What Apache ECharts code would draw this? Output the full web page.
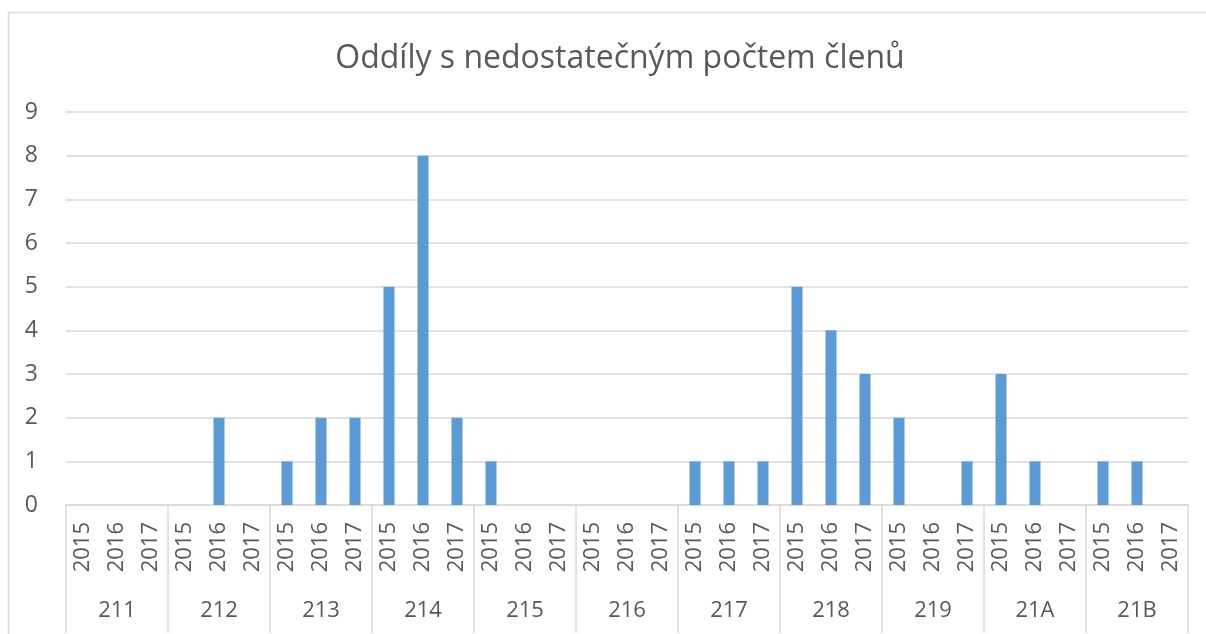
<!DOCTYPE html>
<html>
<head>
<meta charset="utf-8">
<script src="https://cdn.jsdelivr.net/npm/echarts@6/dist/echarts.min.js"></script>
<style>
  html, body { margin: 0; padding: 0; background: #fff; }
  #chart { width: 1206px; height: 634px; }
</style>
</head>
<body>
<div id="chart"></div>
<script>
var groups = ['211', '212', '213', '214', '215', '216', '217', '218', '219', '21A', '21B'];
var years = ['2015', '2016', '2017'];
// values per group, in order 2015, 2016, 2017
var v211 = [0, 0, 0];
var v212 = [0, 2, 0];
var v213 = [1, 2, 2];
var v214 = [5, 8, 2];
var v215 = [1, 0, 0];
var v216 = [0, 0, 0];
var v217 = [1, 1, 1];
var v218 = [5, 4, 3];
var v219 = [2, 0, 1];
var v21A = [3, 1, 0];
var v21B = [1, 1, 0];

var groupValues = [v211, v212, v213, v214, v215, v216, v217, v218, v219, v21A, v21B];
var yearCats = [];
var values = [];
groupValues.forEach(function (g) {
    g.forEach(function (v, i) {
        yearCats.push(years[i]);
        values.push(v);
    });
});

var textColor = '#595959';
var lineColor = '#d9d9d9';
var font = '"Open Sans", sans-serif';

var myChart = echarts.init(document.getElementById('chart'));
myChart.setOption({
    animation: false,
    title: {
        text: 'Oddíly s nedostatečným počtem členů',
        left: 615,
        top: 38,
        textAlign: 'center',
        textStyle: {
            color: textColor,
            fontSize: 32,
            fontWeight: 'normal',
            fontFamily: font
        }
    },
    graphic: [{
        type: 'rect',
        shape: { x: 8.5, y: 12.5, width: 1400, height: 800 },
        style: { fill: 'none', stroke: lineColor, lineWidth: 1.5 },
        silent: true,
        z: -1
    }],
    grid: {
        left: 66,
        right: 18,
        top: 112,
        bottom: 129
    },
    xAxis: [{
        type: 'category',
        data: yearCats,
        position: 'bottom',
        axisLine: { lineStyle: { color: lineColor, width: 1.5 } },
        axisTick: { show: false },
        axisLabel: {
            interval: 0,
            rotate: 90,
            margin: 17,
            color: textColor,
            fontSize: 22,
            fontFamily: font
        }
    }, {
        type: 'category',
        data: groups,
        position: 'bottom',
        axisLine: { show: false },
        axisTick: {
            show: true,
            inside: false,
            length: 128,
            lineStyle: { color: lineColor, width: 1.5 }
        },
        axisLabel: {
            interval: 0,
            margin: 95,
            color: textColor,
            fontSize: 22,
            fontFamily: font
        }
    }],
    yAxis: {
        type: 'value',
        min: 0,
        max: 9,
        interval: 1,
        axisLine: { show: false },
        axisTick: { show: false },
        splitLine: { lineStyle: { color: lineColor, width: 1.5 } },
        axisLabel: {
            margin: 28,
            color: textColor,
            fontSize: 23,
            fontFamily: font
        }
    },
    series: [{
        type: 'bar',
        xAxisIndex: 0,
        data: values,
        barWidth: 11,
        itemStyle: { color: '#5b9bd5' }
    }]
});

window.addEventListener('resize', function () {
    myChart.resize();
});
</script>
</body>
</html>
